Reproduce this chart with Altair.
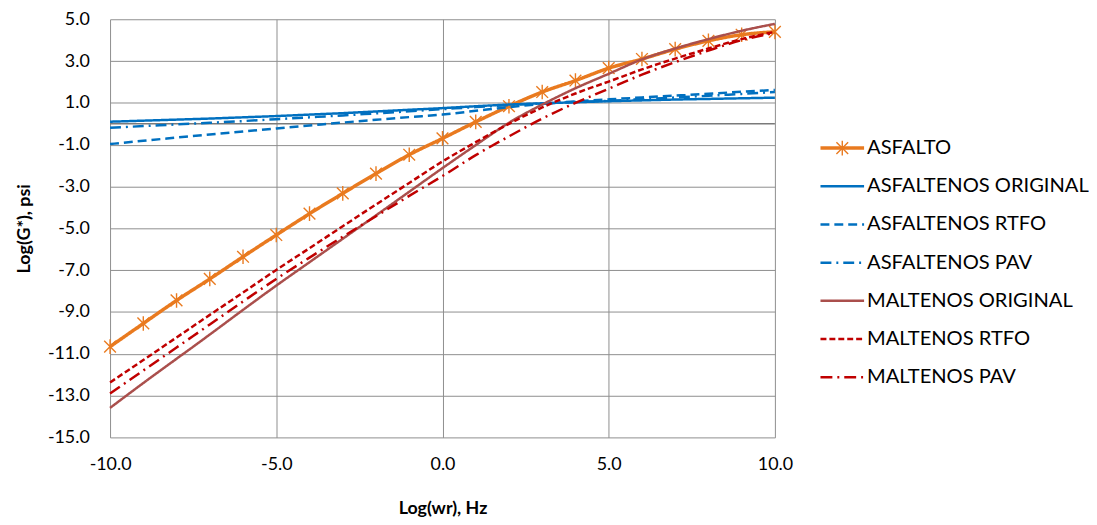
import altair as alt
import pandas as pd

# ---------------- data ----------------
x_vals = list(range(-10, 11))
asfalto = [-10.66, -9.55, -8.45, -7.42, -6.36, -5.32, -4.30, -3.33, -2.38, -1.48, -0.70,
           0.09, 0.84, 1.52, 2.07, 2.66, 3.10, 3.57, 3.97, 4.26, 4.40]
asf_original = [0.10, 0.15, 0.20, 0.25, 0.31, 0.37, 0.44, 0.51, 0.59, 0.67, 0.75,
                0.84, 0.92, 0.98, 1.03, 1.08, 1.12, 1.16, 1.19, 1.22, 1.25]
asf_rtfo = [-0.97, -0.81, -0.66, -0.51, -0.37, -0.22, -0.08, 0.06, 0.19, 0.32, 0.44,
            0.62, 0.80, 0.95, 1.07, 1.17, 1.26, 1.35, 1.44, 1.53, 1.62]
asf_pav = [-0.19, -0.11, -0.03, 0.05, 0.13, 0.22, 0.31, 0.40, 0.50, 0.60, 0.70,
           0.80, 0.89, 0.97, 1.04, 1.10, 1.18, 1.26, 1.34, 1.43, 1.52]
malt_original = [-13.59, -12.40, -11.24, -10.08, -8.90, -7.74, -6.62, -5.50, -4.38, -3.25, -2.12,
                 -1.02, 0.05, 0.92, 1.70, 2.39, 3.08, 3.60, 4.05, 4.45, 4.78]
malt_rtfo = [-12.37, -11.30, -10.22, -9.14, -8.07, -6.99, -5.95, -4.90, -3.86, -2.83, -1.80,
             -0.88, 0.00, 0.78, 1.45, 2.02, 2.60, 3.12, 3.60, 4.05, 4.40]
malt_pav = [-12.90, -11.80, -10.70, -9.60, -8.50, -7.42, -6.40, -5.40, -4.42, -3.45, -2.50,
            -1.50, -0.60, 0.25, 1.00, 1.68, 2.35, 2.95, 3.50, 4.00, 4.35]

series_names = ["ASFALTO", "ASFALTENOS ORIGINAL", "ASFALTENOS RTFO", "ASFALTENOS PAV",
                "MALTENOS ORIGINAL", "MALTENOS RTFO", "MALTENOS PAV"]
series_values = [asfalto, asf_original, asf_rtfo, asf_pav, malt_original, malt_rtfo, malt_pav]

x_ticks = [-10, -5, 0, 5, 10]
y_ticks = [5, 3, 1, -1, -3, -5, -7, -9, -11, -13, -15]

# ---------------- styles ----------------
colors = ["#E97A1F", "#0070C0", "#0070C0", "#0070C0", "#AA4F4C", "#C00000", "#C00000"]
dashes = [[1, 0], [1, 0], [9, 5], [11, 5, 2, 5], [1, 0], [6, 3], [12, 5, 2, 5]]
widths = [3.5, 2.5, 2.5, 2.5, 2.5, 2.5, 2.5]
STAR = "M -1 -1 L 1 1 M -1 1 L 1 -1 M 0 -1.25 L 0 1.25"
FONT = "Lato"
GRID = "#8E8E8E"

W, H = 671, 422

label_expr = "(datum.value < 0 ? '-' : '') + format(abs(datum.value), '.1f')"

x_enc = alt.X("x:Q", scale=alt.Scale(domain=[-10, 10], nice=False, zero=False),
              axis=alt.Axis(values=x_ticks, labelExpr=label_expr, title="Log(wr), Hz",
                            grid=True, gridColor=GRID, gridWidth=1, domain=False, ticks=False,
                            tickSize=0, labelFlush=False, labelPadding=18, labelFontSize=18,
                            labelFont=FONT, labelColor="#000000", titleFont=FONT,
                            titleFontSize=18, titleFontWeight="bold", titleColor="#000000",
                            titlePadding=27))
y_enc = alt.Y("y:Q", scale=alt.Scale(domain=[-15, 5], nice=False, zero=False),
              axis=alt.Axis(values=y_ticks, labelExpr=label_expr, title="Log(G*), psi",
                            grid=True, gridColor=GRID, gridWidth=1, domain=False, ticks=False,
                            tickSize=0, labelFlush=False, labelPadding=21, labelFontSize=18,
                            labelFont=FONT, labelColor="#000000", titleFont=FONT,
                            titleFontSize=18, titleFontWeight="bold", titleColor="#000000",
                            titlePadding=14))

zero_df = pd.DataFrame({"y": [0]})
zero_line = alt.Chart(zero_df).mark_rule(color="#7A7A7A", strokeWidth=1.5).encode(y=y_enc)

layers = [zero_line]
for name, vals, col, dash, wd in zip(series_names, series_values, colors, dashes, widths):
    df = pd.DataFrame({"x": x_vals, "y": vals, "series": name})
    line = alt.Chart(df).mark_line(color=col, strokeDash=dash, strokeWidth=wd,
                                   interpolate="monotone").encode(x=x_enc, y=y_enc)
    layers.append(line)
    if name == "ASFALTO":
        pts = alt.Chart(df).mark_point(shape=STAR, size=140, filled=False, color=col,
                                       strokeWidth=1.4, opacity=1).encode(x=x_enc, y=y_enc)
        layers.append(pts)

main = alt.layer(*layers).properties(width=W, height=H)

# ---------------- legend panel ----------------
# legend rows: order index 0..6 mapped top-to-bottom through a linear scale
leg_order = list(range(len(series_names)))
leg_y = alt.Y("row:Q", scale=alt.Scale(domain=[-7.575, 3.372], nice=False, zero=False),
              axis=None)
leg_layers = []
for i, (name, col, dash, wd) in enumerate(zip(series_names, colors, dashes, widths)):
    ldf = pd.DataFrame({"series": [name], "row": [-leg_order[i]]})
    leg_layers.append(alt.Chart(ldf).mark_rule(color=col, strokeDash=dash, strokeWidth=wd)
                      .encode(x=alt.value(8), x2=alt.value(52), y=leg_y))
    if name == "ASFALTO":
        leg_layers.append(alt.Chart(ldf).mark_point(shape=STAR, size=140, filled=False, color=col,
                                                    strokeWidth=1.4, opacity=1)
                          .encode(x=alt.value(30), y=leg_y))
    leg_layers.append(alt.Chart(ldf).mark_text(align="left", baseline="middle", font=FONT,
                                               fontSize=20.3, color="#000000")
                      .encode(x=alt.value(55), y=leg_y, text="series:N"))
legend = alt.layer(*leg_layers).properties(width=230, height=H)

chart = (alt.hconcat(main, legend, spacing=38, bounds="flush")
         .properties(padding={"left": 7, "top": 0, "right": 0, "bottom": 0},
                     background="white")
         .configure_view(stroke="transparent", strokeWidth=0))

chart.save("out.html", embed_options={"renderer": "svg", "actions": False})
